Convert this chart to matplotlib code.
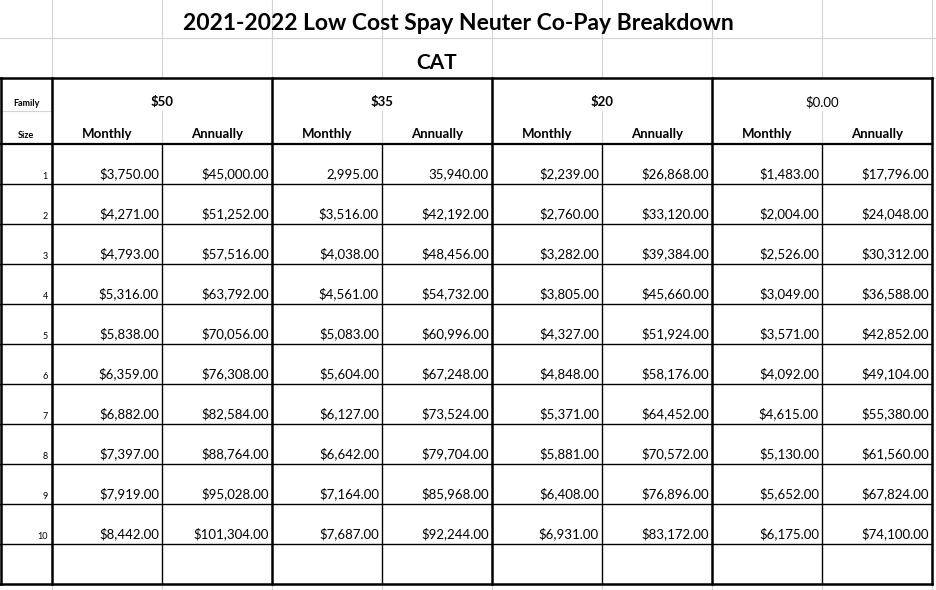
import matplotlib
matplotlib.use("Agg")
import matplotlib.pyplot as plt

title = "2021-2022 Low Cost Spay Neuter Co-Pay Breakdown"
subtitle = "CAT"
tiers = ["$50", "$35", "$20", "$0.00"]
subcols = ["Monthly", "Annually"]
family_size = [1, 2, 3, 4, 5, 6, 7, 8, 9, 10]
m50 = ["$3,750.00", "$4,271.00", "$4,793.00", "$5,316.00", "$5,838.00", "$6,359.00", "$6,882.00", "$7,397.00", "$7,919.00", "$8,442.00"]
a50 = ["$45,000.00", "$51,252.00", "$57,516.00", "$63,792.00", "$70,056.00", "$76,308.00", "$82,584.00", "$88,764.00", "$95,028.00", "$101,304.00"]
m35 = ["2,995.00", "$3,516.00", "$4,038.00", "$4,561.00", "$5,083.00", "$5,604.00", "$6,127.00", "$6,642.00", "$7,164.00", "$7,687.00"]
a35 = ["35,940.00", "$42,192.00", "$48,456.00", "$54,732.00", "$60,996.00", "$67,248.00", "$73,524.00", "$79,704.00", "$85,968.00", "$92,244.00"]
m20 = ["$2,239.00", "$2,760.00", "$3,282.00", "$3,805.00", "$4,327.00", "$4,848.00", "$5,371.00", "$5,881.00", "$6,408.00", "$6,931.00"]
a20 = ["$26,868.00", "$33,120.00", "$39,384.00", "$45,660.00", "$51,924.00", "$58,176.00", "$64,452.00", "$70,572.00", "$76,896.00", "$83,172.00"]
m0 = ["$1,483.00", "$2,004.00", "$2,526.00", "$3,049.00", "$3,571.00", "$4,092.00", "$4,615.00", "$5,130.00", "$5,652.00", "$6,175.00"]
a0 = ["$17,796.00", "$24,048.00", "$30,312.00", "$36,588.00", "$42,852.00", "$49,104.00", "$55,380.00", "$61,560.00", "$67,824.00", "$74,100.00"]
columns = [m50, a50, m35, a35, m20, a20, m0, a0]

FONT = "Lato"
fig = plt.figure(figsize=(9.37, 5.90), dpi=100)
ax = fig.add_axes([0, 0, 1, 1])
ax.set_xlim(0, 937)
ax.set_ylim(590, 0)
ax.axis("off")

gray = "#d4d4d4"
xs = [52 + 110 * i for i in range(9)]  # column boundaries
top, hmid, hbot = 78, 111, 144
row_h = 40.0
bottom = hbot + row_h * 11

# spreadsheet gridlines outside the box
for x in xs:
    ax.plot([x, x], [0, top], color=gray, lw=0.8)
    ax.plot([x, x], [bottom, 590], color=gray, lw=0.8)
for x in xs[1:]:
    pass
ax.plot([0, 937], [38, 38], color=gray, lw=0.8)
ax.plot([932, 937], [top, top], color=gray, lw=0.8)

# header gray lines
ax.plot([0, 52], [hmid, hmid], color=gray, lw=0.8)
for i in range(4):
    xm = xs[2 * i + 1]
    ax.plot([xm, xm], [hmid, hbot], color=gray, lw=0.8)

# horizontal data lines
for r in range(1, 11):
    y = hbot + row_h * r
    ax.plot([0, 932], [y, y], color="black", lw=1.0)
ax.plot([0, 932], [hbot, hbot], color="black", lw=1.6)
# thin internal verticals in body
for i in range(4):
    xm = xs[2 * i + 1]
    ax.plot([xm, xm], [hbot, bottom], color="black", lw=1.0)
# thick verticals
for x in xs[::2]:
    ax.plot([x, x], [top, bottom], color="black", lw=1.8)
ax.plot([0, 932], [top, top], color="black", lw=1.8)
ax.plot([0, 932], [bottom, bottom], color="black", lw=1.8)
ax.plot([0.5, 0.5], [top, bottom], color="black", lw=1.8)

ax.text(458, 24, title, ha="center", va="center", fontsize=16.5, fontweight="bold", family=FONT)
ax.text(437, 63, subtitle, ha="center", va="center", fontsize=15, fontweight="bold", family=FONT)

ax.text(26, 104, "Family", ha="center", va="center", fontsize=6.5, fontweight="bold", family=FONT)
ax.text(26, 135, "Size", ha="center", va="center", fontsize=6.5, fontweight="bold", family=FONT)
for i, t in enumerate(tiers):
    ax.text((xs[2 * i] + xs[2 * i + 2]) / 2, 102, t, ha="center", va="center", fontsize=9.5,
            fontweight="normal" if t == "$0.00" else "bold", family=FONT)
    for j, s in enumerate(subcols):
        ax.text(xs[2 * i + j] + 55, 134, s, ha="center", va="center", fontsize=9.5,
                fontweight="bold", family=FONT)

for r, fs in enumerate(family_size):
    yb = hbot + row_h * (r + 1)
    ax.text(48, yb - 5, str(fs), ha="right", va="baseline", fontsize=6.5, family=FONT)
    for c, col in enumerate(columns):
        ax.text(xs[c + 1] - 3, yb - 6, col[r], ha="right", va="baseline", fontsize=9.5, family=FONT)

fig.savefig("out.png", dpi=100)
